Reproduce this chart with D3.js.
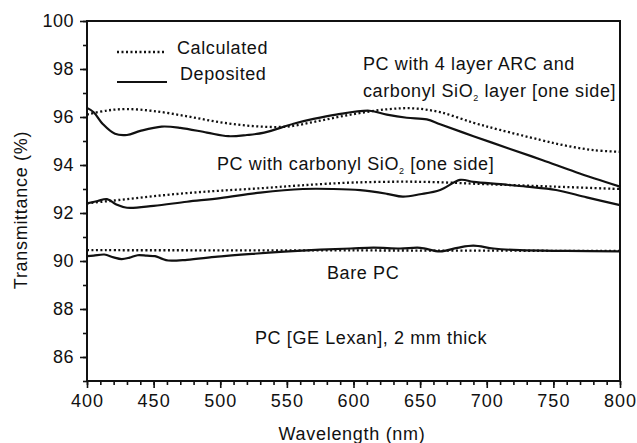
<!DOCTYPE html>
<html>
<head>
<meta charset="utf-8">
<script src="https://cdn.jsdelivr.net/npm/d3@7"></script>
<style>
  body { margin: 0; background: #fff; }
  svg { font-family: 'Liberation Sans', Arial, sans-serif; }
</style>
</head>
<body>
<svg></svg>
<script>
// wavelength (nm) / transmittance (%)
const arcCalcX = [400, 415, 430, 450, 475, 500, 525, 550, 575, 600, 625, 645, 665, 690, 710, 740, 760, 780, 800];
const arcCalcY = [96.1, 96.27, 96.33, 96.25, 96.03, 95.78, 95.62, 95.6, 95.85, 96.12, 96.32, 96.36, 96.2, 95.76, 95.46, 95.05, 94.8, 94.62, 94.55];

const arcDepX = [400, 405, 412, 421, 430, 440, 456, 470, 490, 506, 520, 533, 555, 570, 587, 612, 625, 640, 655, 665, 690, 717, 742, 767, 800];
const arcDepY = [96.38, 96.2, 95.7, 95.3, 95.25, 95.42, 95.6, 95.55, 95.35, 95.2, 95.25, 95.35, 95.72, 95.92, 96.1, 96.26, 96.1, 95.97, 95.9, 95.7, 95.2, 94.68, 94.2, 93.7, 93.1];

const sioCalcX = [400, 425, 450, 475, 500, 530, 560, 600, 650, 700, 750, 800];
const sioCalcY = [92.4, 92.55, 92.7, 92.83, 92.93, 93.03, 93.15, 93.27, 93.3, 93.2, 93.1, 93.0];

const sioDepX = [400, 408, 415, 422, 430, 450, 475, 500, 530, 562, 585, 605, 625, 637, 650, 665, 680, 690, 710, 730, 752, 775, 800];
const sioDepY = [92.4, 92.5, 92.58, 92.35, 92.22, 92.3, 92.47, 92.62, 92.85, 93.0, 93.0, 92.95, 92.8, 92.68, 92.78, 92.96, 93.38, 93.3, 93.2, 93.1, 92.96, 92.65, 92.33];

const bareCalcX = [400, 600, 800];
const bareCalcY = [90.45, 90.44, 90.42];

const bareDepX = [400, 405, 413, 420, 426, 432, 438, 445, 451, 456, 461, 475, 498, 525, 548, 575, 598, 615, 635, 650, 665, 678, 690, 705, 725, 760, 800];
const bareDepY = [90.2, 90.22, 90.27, 90.15, 90.08, 90.14, 90.24, 90.22, 90.2, 90.1, 90.02, 90.05, 90.18, 90.3, 90.39, 90.47, 90.52, 90.56, 90.52, 90.55, 90.4, 90.55, 90.64, 90.52, 90.45, 90.42, 90.4];

const xTicks = [400, 450, 500, 550, 600, 650, 700, 750, 800];
const yTicks = [86, 88, 90, 92, 94, 96, 98, 100];

const w = 637;
const h = 443;
const margin = { top: 21, right: 17, bottom: 62, left: 87 };

const svg = d3.select('svg').attr('width', w).attr('height', h);

const xScale = d3.scaleLinear().domain([400, 800]).range([margin.left, w - margin.right]);
const yScale = d3.scaleLinear().domain([85, 100]).range([h - margin.bottom, margin.top]);

const ink = '#111';

// minor ticks first, then major ones with labels
svg.append('g')
  .attr('transform', `translate(0,${h - margin.bottom})`)
  .call(d3.axisBottom(xScale).tickValues(d3.range(400, 801, 10)).tickSize(4).tickFormat(''))
  .call((g) => g.select('.domain').remove());
svg.append('g')
  .attr('transform', `translate(0,${h - margin.bottom})`)
  .call(d3.axisBottom(xScale).tickValues(xTicks).tickSize(7).tickPadding(6))
  .call((g) => g.select('.domain').remove())
  .call((g) => g.selectAll('text').attr('font-size', 18).attr('letter-spacing', 1).attr('fill', ink).attr('font-family', 'Liberation Sans'));

svg.append('g')
  .attr('transform', `translate(${margin.left},0)`)
  .call(d3.axisLeft(yScale).tickValues(d3.range(85, 101, 1)).tickSize(4).tickFormat(''))
  .call((g) => g.select('.domain').remove());
svg.append('g')
  .attr('transform', `translate(${margin.left},0)`)
  .call(d3.axisLeft(yScale).tickValues(yTicks).tickSize(7).tickPadding(6))
  .call((g) => g.select('.domain').remove())
  .call((g) => g.selectAll('text').attr('font-size', 18).attr('letter-spacing', 0.5).attr('fill', ink).attr('font-family', 'Liberation Sans'));

svg.selectAll('.tick line').attr('stroke', ink).attr('stroke-width', 1.6);

// frame
svg.append('rect')
  .attr('x', margin.left)
  .attr('y', margin.top)
  .attr('width', w - margin.left - margin.right)
  .attr('height', h - margin.top - margin.bottom)
  .attr('fill', 'none')
  .attr('stroke', ink)
  .attr('stroke-width', 2);

const line = d3.line()
  .x((d) => xScale(d[0]))
  .y((d) => yScale(d[1]))
  .curve(d3.curveCatmullRom);

const series = [
  [arcCalcX, arcCalcY, true],
  [arcDepX, arcDepY, false],
  [sioCalcX, sioCalcY, true],
  [sioDepX, sioDepY, false],
  [bareCalcX, bareCalcY, true],
  [bareDepX, bareDepY, false],
];

series.forEach(([xs, ys, dotted]) => {
  svg.append('path')
    .datum(xs.map((x, i) => [x, ys[i]]))
    .attr('d', line)
    .attr('fill', 'none')
    .attr('stroke', ink)
    .attr('stroke-width', dotted ? 2.3 : 2.2)
    .attr('stroke-dasharray', dotted ? '2,2.5' : null);
});

// legend
svg.append('line')
  .attr('x1', 117).attr('x2', 164).attr('y1', 52).attr('y2', 52)
  .attr('stroke', ink).attr('stroke-width', 2.3).attr('stroke-dasharray', '2,2.5');
svg.append('line')
  .attr('x1', 117).attr('x2', 167).attr('y1', 82).attr('y2', 82)
  .attr('stroke', ink).attr('stroke-width', 2.2);

const label = (x, y, txt) =>
  svg.append('text')
    .attr('x', x).attr('y', y)
    .attr('font-size', 18).attr('letter-spacing', 0.6)
    .attr('fill', ink).text(txt);

label(177, 54, 'Calculated');
label(180, 80, 'Deposited');
label(363, 70, 'PC with 4 layer ARC and');

const sio = (x, y, before, after) => {
  const t = svg.append('text')
    .attr('x', x).attr('y', y)
    .attr('font-size', 18).attr('letter-spacing', 0.6)
    .attr('fill', ink);
  t.append('tspan').text(before);
  t.append('tspan').attr('font-size', 9).attr('dy', 4).text('2');
  t.append('tspan').attr('dy', -4).text(after);
};
sio(363, 97, 'carbonyl SiO', ' layer [one side]');
sio(217, 170, 'PC with carbonyl SiO', ' [one side]');

label(327, 279, 'Bare PC');
label(255, 344, 'PC [GE Lexan], 2 mm thick');

// axis titles
svg.append('text')
  .attr('x', 352)
  .attr('y', 440)
  .attr('text-anchor', 'middle')
  .attr('font-size', 18)
  .attr('letter-spacing', 0.7)
  .attr('fill', ink)
  .text('Wavelength (nm)');

svg.append('text')
  .attr('transform', `translate(27,210) rotate(-90)`)
  .attr('text-anchor', 'middle')
  .attr('font-size', 18)
  .attr('letter-spacing', 0.7)
  .attr('fill', ink)
  .text('Transmittance (%)');
</script>
</body>
</html>
